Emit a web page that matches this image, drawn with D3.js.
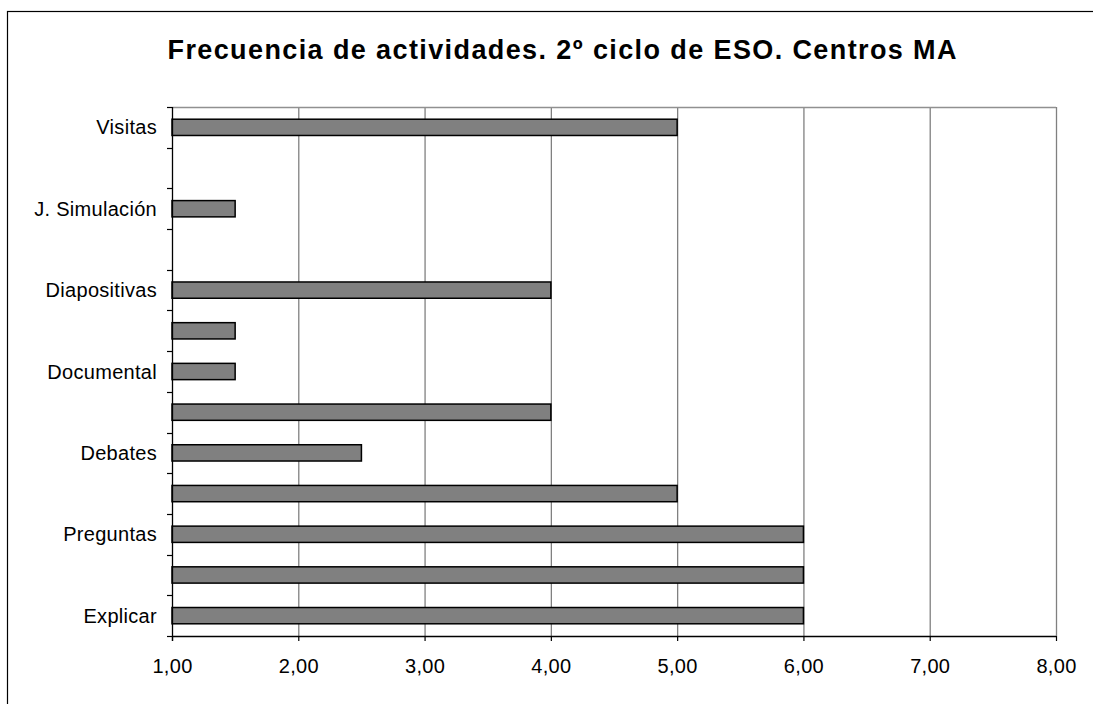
<!DOCTYPE html>
<html>
<head>
<meta charset="utf-8">
<script src="https://cdn.jsdelivr.net/npm/d3@7"></script>
<style>
  html, body { margin: 0; padding: 0; background: #fff; }
  svg { display: block; }
  text { font-family: "Liberation Sans", Arial, sans-serif; fill: #000; }
</style>
</head>
<body>
<svg id="chart" width="1093" height="704"></svg>
<script>
// Activities, bottom to top (only every other label is shown on the axis)
const categories = ["Explicar", "", "Preguntas", "", "Debates", "", "Documental", "", "Diapositivas", "", "J. Simulación", "", "Visitas"];
// Mean frequency per activity (null = no bar)
const values = [6, 6, 6, 5, 2.5, 4, 1.5, 1.5, 4, null, 1.5, null, 5];
const xTicks = [1, 2, 3, 4, 5, 6, 7, 8];
const title = "Frecuencia de actividades. 2º ciclo de ESO. Centros MA";

const svg = d3.select("#chart");
const plot = { left: 172, right: 1056, top: 107, bottom: 636 };

// Outer chart frame
svg.append("rect")
  .attr("x", 7.5).attr("y", 11.5)
  .attr("width", 1200).attr("height", 800)
  .attr("fill", "none").attr("stroke", "#000").attr("stroke-width", 1.2);

// Title
svg.append("text")
  .attr("x", 562).attr("y", 59)
  .attr("text-anchor", "middle")
  .attr("font-size", 27).attr("font-weight", "bold")
  .attr("textLength", 789).attr("lengthAdjust", "spacing")
  .text(title);

const x = d3.scaleLinear().domain([1, 8]).range([plot.left, plot.right]);
const y = d3.scaleBand().domain(d3.range(categories.length)).range([plot.bottom, plot.top]);

// Vertical gridlines and plot frame (top)
svg.append("g")
  .selectAll("line")
  .data(xTicks.slice(1))
  .join("line")
  .attr("x1", d => x(d) + 0.5).attr("x2", d => x(d) + 0.5)
  .attr("y1", plot.top).attr("y2", plot.bottom)
  .attr("stroke", "#808080").attr("stroke-width", 1.3);
svg.append("line")
  .attr("x1", plot.left).attr("x2", plot.right)
  .attr("y1", plot.top + 0.5).attr("y2", plot.top + 0.5)
  .attr("stroke", "#909090").attr("stroke-width", 1.3);

// Bars
const barH = y.bandwidth() * 0.4;
svg.append("g")
  .selectAll("rect")
  .data(values.map((v, i) => ({ i, v })).filter(d => d.v != null))
  .join("rect")
  .attr("x", x(1))
  .attr("y", d => y(d.i) + (y.bandwidth() - barH) / 2)
  .attr("width", d => x(d.v) - x(1))
  .attr("height", barH)
  .attr("fill", "#808080")
  .attr("stroke", "#000").attr("stroke-width", 1.5);

// X axis
const xAxis = d3.axisBottom(x)
  .tickValues(xTicks)
  .tickSize(5)
  .tickPadding(18)
  .tickFormat(d => d3.format(".2f")(d).replace(".", ","));
const gx = svg.append("g")
  .attr("transform", `translate(0,${plot.bottom})`)
  .call(xAxis);
gx.select(".domain").attr("stroke", "#000").attr("stroke-width", 1.3).attr("d", `M${plot.left},0.5H${plot.right}`);
gx.selectAll(".tick line").attr("stroke", "#000").attr("stroke-width", 1.2);
gx.selectAll(".tick text")
  .attr("font-family", "'Liberation Sans', Arial, sans-serif")
  .attr("font-size", 20).attr("letter-spacing", "0.3px").attr("fill", "#000");

// Y axis: ticks at category boundaries
const bounds = d3.range(categories.length + 1).map(i => plot.bottom - i * y.step());
const gy = svg.append("g");
gy.append("line")
  .attr("x1", plot.left + 0.5).attr("x2", plot.left + 0.5)
  .attr("y1", plot.top).attr("y2", plot.bottom + 5)
  .attr("stroke", "#000").attr("stroke-width", 1.3);
gy.selectAll("line.tk")
  .data(bounds)
  .join("line").attr("class", "tk")
  .attr("x1", plot.left - 5).attr("x2", plot.left)
  .attr("y1", d => Math.round(d) + 0.5).attr("y2", d => Math.round(d) + 0.5)
  .attr("stroke", "#000").attr("stroke-width", 1.2);
gy.selectAll("text")
  .data(categories.map((c, i) => ({ c, i })).filter(d => d.c))
  .join("text")
  .attr("x", 157)
  .attr("y", d => y(d.i) + y.bandwidth() / 2)
  .attr("dy", "0.35em")
  .attr("text-anchor", "end")
  .attr("font-size", 20)
  .attr("letter-spacing", "0.3px")
  .text(d => d.c);
</script>
</body>
</html>
